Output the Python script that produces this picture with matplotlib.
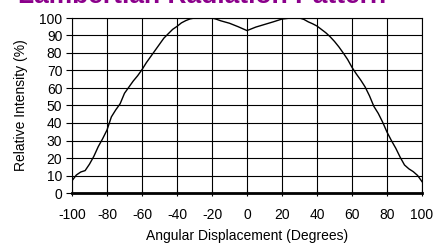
import numpy as np
import matplotlib.pyplot as plt

plt.rcParams['font.family'] = ['Liberation Sans', 'DejaVu Sans']
plt.rcParams['axes.unicode_minus'] = False

# data
angle = [-100, -97.5, -95, -92.5, -90, -87.5, -85, -82.5, -80, -77.5, -75, -72.5,
         -70, -67.5, -65, -62.5, -60, -57.5, -55, -52.5, -50, -47.5, -45, -42.5,
         -40, -37.5, -35, -32.5, -30, -25, -20, -17.5, -15, -10, -5, 0, 5, 10, 15,
         20, 25, 30, 32.5, 35, 37.5, 40, 42.5, 45, 47.5, 50, 52.5, 55, 57.5, 60,
         62.5, 65, 67.5, 70, 72.5, 75, 77.5, 80, 82.5, 85, 87.5, 90, 92.5, 95,
         97.5, 100]
intensity = [7, 10.3, 12, 12.8, 16.5, 21, 26.5, 31, 36, 43.5, 47.5, 51,
             57, 60.5, 64, 67, 70.5, 74.5, 78, 81.5, 85, 88.5, 91, 93.5,
             95.2, 97.2, 98.5, 99.5, 100, 100, 100, 99.3, 98.4, 97, 95, 92.8, 94.8, 96.3, 97.8,
             99.4, 100, 100, 99.2, 97.8, 96.7, 95.4, 93.5, 91.6, 89.3, 86.6, 83.5, 80, 76.3, 71.8,
             68, 64.5, 60.6, 55.5, 49.5, 45.5, 40.5, 34.8, 30, 25.6, 20.5, 16, 13.8, 12.2,
             10, 6.5]
xticks = np.arange(-100, 101, 20)
yticks = np.arange(0, 101, 10)

fig = plt.figure(figsize=(4.36, 2.45), dpi=100)
ax = fig.add_axes([72/436, 1 - 193/245, 350/436, 175/245])

ax.plot(angle, intensity, color='black', lw=1)
ax.set_xlim(-100, 100)
ax.set_ylim(0, 100)
ax.set_xticks(xticks)
ax.set_yticks(yticks)
ax.grid(True, color='black', lw=0.8)
ax.set_axisbelow(True)
for s in ax.spines.values():
    s.set_linewidth(0.8)
ax.spines['bottom'].set_linewidth(2)
ax.tick_params(axis='x', direction='inout', length=5, width=0.8, labelsize=10, pad=8)
ax.tick_params(axis='y', direction='out', length=4, width=0.8, labelsize=10, pad=3)

ax.set_xlabel('Angular Displacement (Degrees)', fontsize=10, labelpad=5)
ax.set_ylabel('Relative Intensity (%)', fontsize=10, labelpad=8)

fig.text(202/436, 1 - 3/245, 'Lambertian Radiation Pattern', color='#8b008b',
         fontsize=19, fontweight='bold', ha='center', va='baseline')

fig.savefig('out.png', dpi=100)
